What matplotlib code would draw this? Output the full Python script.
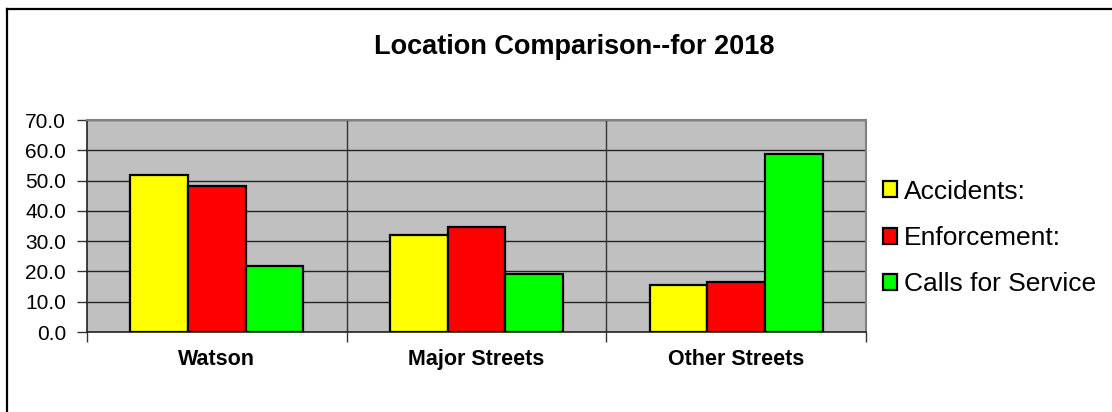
import matplotlib
matplotlib.use("Agg")
import matplotlib.pyplot as plt
import numpy as np
from matplotlib.lines import Line2D

plt.rcParams["font.family"] = ["Liberation Sans", "DejaVu Sans"]

CATEGORIES = ["Watson", "Major Streets", "Other Streets"]
SERIES = ["Accidents:", "Enforcement:", "Calls for Service"]
ACCIDENTS = [51.8, 32.0, 15.5]
ENFORCEMENT = [48.1, 34.7, 16.6]
CALLS = [21.8, 19.0, 58.7]
YTICKS = [0, 10, 20, 30, 40, 50, 60, 70]

COLORS = ["#ffff00", "#ff0000", "#00ff00"]
PLOT_BG = "#c0c0c0"

fig = plt.figure(figsize=(11.12, 4.12), dpi=100)
fig.patch.set_facecolor("white")
ax = fig.add_axes([87 / 1112, 1 - 332 / 412, (866 - 87) / 1112, (332 - 120) / 412])
ax.set_facecolor(PLOT_BG)

x = np.arange(len(CATEGORIES))
bw = 1 / 1.5 / 3
bars = []
for i, (vals, col, lab) in enumerate(zip([ACCIDENTS, ENFORCEMENT, CALLS], COLORS, SERIES)):
    b = ax.bar(x + (i - 1) * bw, vals, width=bw, color=col, edgecolor="black",
               linewidth=1.6, label=lab, zorder=3)
    bars.append(b)

ax.set_xlim(-0.5, len(CATEGORIES) - 0.5)
ax.set_ylim(0, 70)
ax.set_yticks(YTICKS)
ax.set_yticklabels([f"{v:.1f}" for v in YTICKS], fontsize=15)
ax.yaxis.grid(True, color="#222222", linewidth=1.0, zorder=1)

# category boundaries carry the tick marks and vertical gridlines
bounds = np.arange(len(CATEGORIES) + 1) - 0.5
ax.set_xticks(bounds)
ax.set_xticklabels([])
ax.set_xticks(x, minor=True)
ax.set_xticklabels(CATEGORIES, minor=True, fontsize=15.5, fontweight="bold")
ax.tick_params(axis="x", which="major", length=7, width=1, color="#333333", direction="out")
ax.tick_params(axis="x", which="minor", length=0, pad=12)
ax.tick_params(axis="y", length=7, width=1, color="#333333", pad=8)
for b in bounds[1:-1]:
    ax.axvline(b, color="#333333", linewidth=1.0, zorder=1)
ax.set_axisbelow(True)

for side in ("top", "right"):
    ax.spines[side].set_color("#808080")
    ax.spines[side].set_linewidth(1.5)
for side in ("left", "bottom"):
    ax.spines[side].set_color("#222222")
    ax.spines[side].set_linewidth(1.2)

fig.text(574 / 1112, 1 - 47 / 412, "Location Comparison--for 2018",
         ha="center", va="center", fontsize=19.5, fontweight="bold")

fig.legend(handles=[b[0] for b in bars], labels=SERIES,
           loc="center left", bbox_to_anchor=(872 / 1112, 1 - 238 / 412),
           frameon=False, fontsize=19, handlelength=0.55, handleheight=0.55,
           handletextpad=0.25, labelspacing=0.85, borderaxespad=0)

# chart-area frame (top and left edges visible in the crop)
fig.add_artist(Line2D([6.5 / 1112, 1.0], [1 - 8.5 / 412, 1 - 8.5 / 412],
                      transform=fig.transFigure, color="black", linewidth=1.6))
fig.add_artist(Line2D([6.5 / 1112, 6.5 / 1112], [0.0, 1 - 8.5 / 412],
                      transform=fig.transFigure, color="black", linewidth=1.6))

fig.savefig("out.png", dpi=100, facecolor="white")
